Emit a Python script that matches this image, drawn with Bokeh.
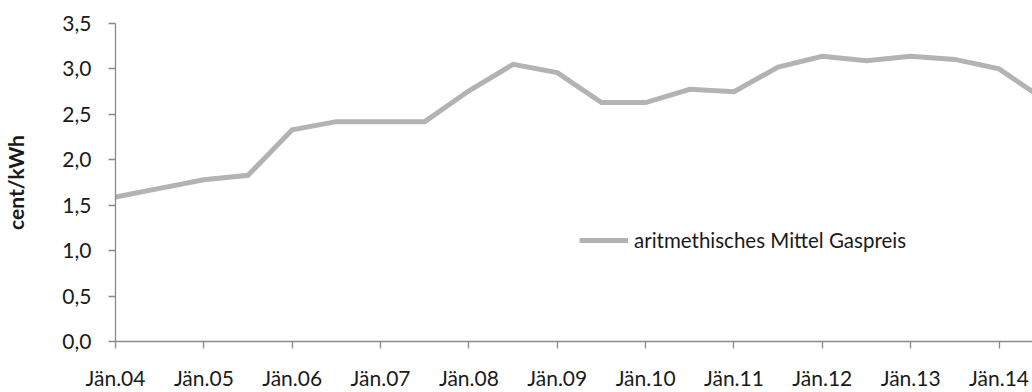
from bokeh.plotting import figure
from bokeh.models import FixedTicker, Legend, Range1d
from bokeh.embed import file_html
from bokeh.resources import INLINE

# Half-yearly average gas price (cent/kWh)
periods = ["Jän.04", "Jul.04", "Jän.05", "Jul.05", "Jän.06", "Jul.06",
           "Jän.07", "Jul.07", "Jän.08", "Jul.08", "Jän.09", "Jul.09",
           "Jän.10", "Jul.10", "Jän.11", "Jul.11", "Jän.12", "Jul.12",
           "Jän.13", "Jul.13", "Jän.14", "Jul.14"]
prices = [1.59, 1.685, 1.78, 1.83, 2.33, 2.42,
          2.42, 2.42, 2.76, 3.05, 2.96, 2.63,
          2.63, 2.775, 2.75, 3.02, 3.14, 3.09,
          3.14, 3.105, 3.00, 2.67]

x_tick_labels = ["Jän.04", "Jän.05", "Jän.06", "Jän.07", "Jän.08", "Jän.09",
                 "Jän.10", "Jän.11", "Jän.12", "Jän.13", "Jän.14"]
y_ticks = [0.0, 0.5, 1.0, 1.5, 2.0, 2.5, 3.0, 3.5]
y_tick_labels = ["0,0", "0,5", "1,0", "1,5", "2,0", "2,5", "3,0", "3,5"]
series_name = "aritmethisches Mittel Gaspreis"

# position in half-year steps
xs = [i * 0.5 for i in range(len(periods))]

FONT = "Lato"
AXIS_COLOR = "#8a8a8a"

p = figure(width=1032, height=392, output_backend="svg", toolbar_location=None,
           x_range=Range1d(0, 918 / 88.45), y_range=Range1d(0, 3.5),
           min_border_left=114, min_border_right=0, min_border_top=23,
           min_border_bottom=51)
p.outline_line_color = None
p.grid.visible = False
p.background_fill_color = "white"
p.border_fill_color = "white"

r = p.line(xs, prices, line_color="#b3b3b3", line_width=5, line_join="miter")

p.xaxis.ticker = FixedTicker(ticks=list(range(len(x_tick_labels))))
p.xaxis.major_label_overrides = {i: t for i, t in enumerate(x_tick_labels)}
p.yaxis.ticker = FixedTicker(ticks=y_ticks)
p.yaxis.major_label_overrides = {v: t for v, t in zip(y_ticks, y_tick_labels)}

for ax in (p.xaxis, p.yaxis):
    ax.axis_line_color = AXIS_COLOR
    ax.axis_line_width = 1.3
    ax.major_tick_line_color = AXIS_COLOR
    ax.major_tick_line_width = 1.3
    ax.major_tick_out = 7
    ax.major_tick_in = 0
    ax.minor_tick_line_color = None
    ax.major_label_text_font = FONT
    ax.major_label_text_font_size = "21px"
    ax.major_label_text_color = "#1a1a1a"

p.xaxis.major_label_standoff = 16
p.yaxis.major_label_standoff = 17

p.yaxis.axis_label = "cent/kWh"
p.yaxis.axis_label_text_font = FONT
p.yaxis.axis_label_text_font_style = "bold"
p.yaxis.axis_label_text_font_size = "21px"
p.yaxis.axis_label_text_color = "#1a1a1a"
p.yaxis.axis_label_standoff = 31

legend = Legend(items=[(series_name, [r])], location=(464, 89),
                glyph_width=49, glyph_height=20, label_standoff=6,
                padding=0, margin=0, spacing=0,
                border_line_color=None, background_fill_alpha=0,
                label_text_font=FONT, label_text_font_size="20.5px",
                label_text_color="#1a1a1a")
p.add_layout(legend, "center")

open("out.html", "w").write(file_html(p, INLINE))
